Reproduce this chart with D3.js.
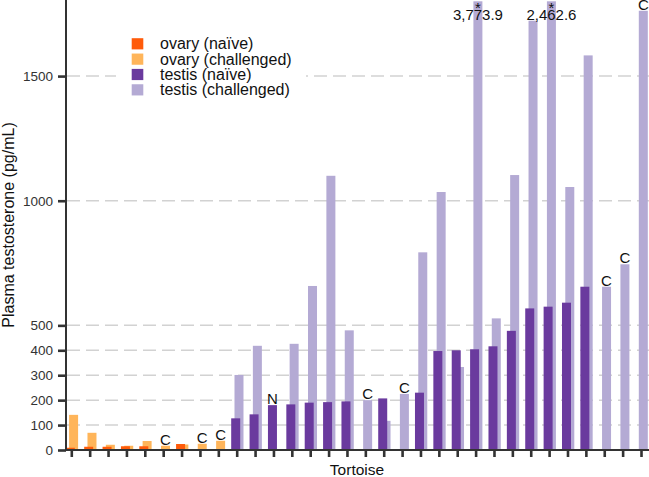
<!DOCTYPE html>
<html>
<head>
<meta charset="utf-8">
<script src="https://cdn.jsdelivr.net/npm/d3@7"></script>
<style>
  html, body { margin: 0; padding: 0; background: #fff; }
  svg { display: block; font-family: "Liberation Sans", Arial, Helvetica, sans-serif; }
</style>
</head>
<body>
<div id="chart"></div>
<script>
// ---- data ----
const tortoises = d3.range(1, 33).map(i => "T" + i);
const organ = ["ovary","ovary","ovary","ovary","ovary","ovary","ovary","ovary","ovary",
  "testis","testis","testis","testis","testis","testis","testis","testis","testis","testis","testis",
  "testis","testis","testis","testis","testis","testis","testis","testis","testis","testis","testis","testis"];
const naive = [9,13,13,15,15,null,24,null,null,127,143,180,183,190,192,195,null,207,null,230,
  397,400,404,416,478,568,575,591,655,null,null,null];
const challenged = [141,69,21,17,36,17,22,25,37,301,418,null,426,658,1100,480,200,117,225,793,
  1035,333,3773.9,528,1103,1722,2462.6,1055,1583,655,745,1762];
const notes = ["","","","","","C","","C","C","","","N","","","","","C","","C","",
  "","","","","","","","","","C","C","C"];
const yTicks = [0,100,200,300,400,500,1000,1500];
const legendLabels = ["ovary (naïve)","ovary (challenged)","testis (naïve)","testis (challenged)"];
const colors = {"ovary-naive":"#FF5B0A","ovary-challenged":"#FFB55A","testis-naive":"#6A3A9E","testis-challenged":"#B4AAD4"};

// ---- layout ----
const W = 649, H = 477;
const svg = d3.select("#chart").append("svg").attr("width", W).attr("height", H);

const x = d3.scalePoint().domain(tortoises).range([71.3, 641]);
const y = d3.scaleLinear().domain([0, 1800]).range([450, 1.3]).clamp(true);
const barW = 9;

// gridlines
svg.append("g").selectAll("line").data(yTicks.filter(v => v > 0)).join("line")
  .attr("x1", 67).attr("x2", W)
  .attr("y1", d => y(d)).attr("y2", d => y(d))
  .attr("stroke", "#d2d2d2").attr("stroke-width", 1.5).attr("stroke-dasharray", "13,6");

const rows = tortoises.map((t, i) => ({t, i, organ: organ[i], naive: naive[i], ch: challenged[i], note: notes[i]}));

// challenged bars (behind)
svg.append("g").selectAll("rect").data(rows.filter(d => d.ch != null)).join("rect")
  .attr("x", d => x(d.t) - 2.2).attr("width", barW)
  .attr("y", d => y(d.ch)).attr("height", d => y(0) - y(d.ch))
  .attr("fill", d => colors[d.organ + "-challenged"]);

// naive bars (front)
svg.append("g").selectAll("rect").data(rows.filter(d => d.naive != null)).join("rect")
  .attr("x", d => x(d.t) - 5.5).attr("width", barW)
  .attr("y", d => y(d.naive)).attr("height", d => y(0) - y(d.naive))
  .attr("fill", d => colors[d.organ + "-naive"]);

// notes C / N
svg.append("g").selectAll("text").data(rows.filter(d => d.note)).join("text")
  .attr("x", d => d.note === "N" ? x(d.t) - 1 : x(d.t) + 2.3)
  .attr("y", d => (d.note === "N" ? y(d.naive) : y(d.ch)) - 1)
  .attr("text-anchor", "middle").attr("font-size", 15).attr("fill", "#111")
  .text(d => d.note);

// off-scale values
const off = rows.filter(d => d.ch != null && d.ch > 1800 && !d.note);
svg.append("g").selectAll("text.ast").data(off).join("text")
  .attr("x", d => x(d.t) + 2.3).attr("y", 12.5)
  .attr("text-anchor", "middle").attr("font-size", 15).attr("fill", "#111").text("*");
svg.append("g").selectAll("text.val").data(off).join("text")
  .attr("x", d => x(d.t) + 2.3).attr("y", 19.5)
  .attr("text-anchor", "middle").attr("font-size", 15).attr("fill", "#111")
  .text(d => d3.format(",.1f")(d.ch));

// axes
const xAxis = svg.append("g").attr("transform", "translate(0,450)")
  .call(d3.axisBottom(x).tickSize(7).tickFormat(""));
xAxis.select(".domain").remove();
xAxis.selectAll(".tick line").attr("stroke", "#333").attr("stroke-width", 2.6);

const yAxis = svg.append("g").attr("transform", "translate(66,0)")
  .call(d3.axisLeft(y).tickValues(yTicks).tickSize(8).tickPadding(5).tickFormat(d3.format("d")));
yAxis.select(".domain").remove();
yAxis.selectAll(".tick line").attr("stroke", "#333").attr("stroke-width", 2.6);
yAxis.selectAll(".tick text").attr("font-size", 13.5).attr("fill", "#333")
  .attr("font-family", "'Liberation Sans', Arial, sans-serif");

svg.append("line").attr("x1", 66).attr("x2", 66).attr("y1", 0).attr("y2", 451)
  .attr("stroke", "#333").attr("stroke-width", 2);
svg.append("line").attr("x1", 65).attr("x2", W).attr("y1", 450).attr("y2", 450)
  .attr("stroke", "#333").attr("stroke-width", 2);

// titles
svg.append("text").attr("x", 357).attr("y", 474.5).attr("text-anchor", "middle")
  .attr("font-size", 15.5).attr("fill", "#111").text("Tortoise");
svg.append("text").attr("transform", "translate(14,225) rotate(-90)").attr("text-anchor", "middle")
  .attr("font-size", 16).attr("fill", "#111").text("Plasma testosterone (pg/mL)");

// legend
const lg = svg.append("g");
lg.append("rect").attr("x", 116).attr("y", 32).attr("width", 190).attr("height", 70).attr("fill", "#fff");
const keys = ["ovary-naive","ovary-challenged","testis-naive","testis-challenged"];
const lgi = lg.selectAll("g").data(keys).join("g")
  .attr("transform", (d, i) => `translate(0,${43.8 + i * 15.35})`);
lgi.append("rect").attr("x", 131.7).attr("y", -5.6).attr("width", 11.6).attr("height", 11.2)
  .attr("fill", d => colors[d]);
lgi.append("text").attr("x", 160).attr("y", 5.6).attr("font-size", 16).attr("fill", "#111")
  .text((d, i) => legendLabels[i]);
</script>
</body>
</html>
